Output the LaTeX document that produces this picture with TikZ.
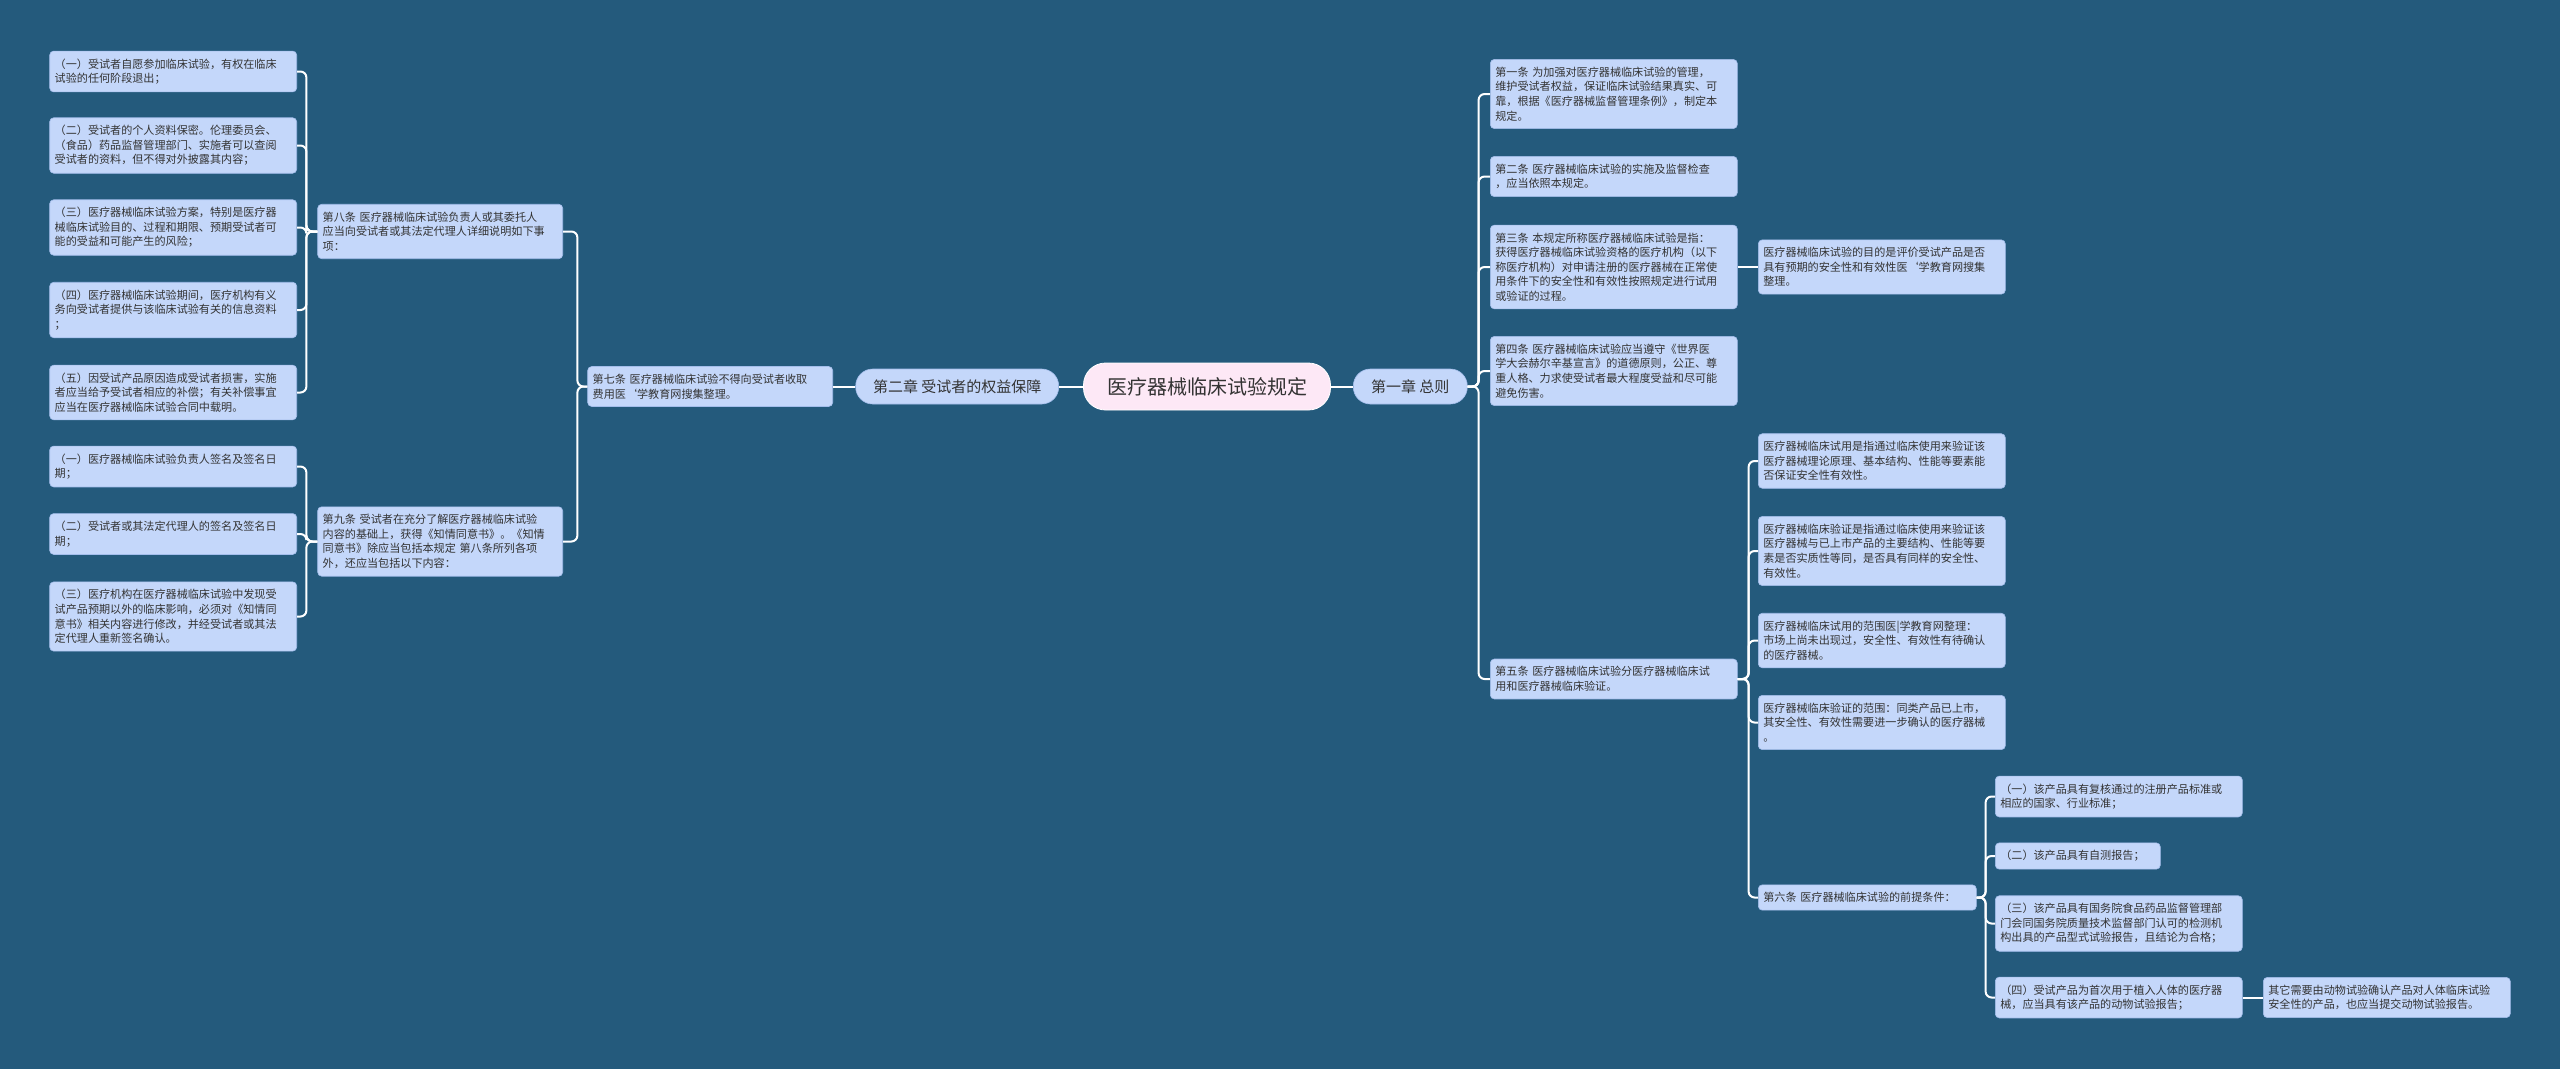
\documentclass[tikz,border=0pt]{standalone}
\usepackage{fontspec}
\setmainfont{Noto Sans CJK SC}
\usetikzlibrary{positioning}

\definecolor{bgblue}{HTML}{245A7C}
\definecolor{notefill}{HTML}{C4D7FA}
\definecolor{noteline}{HTML}{A3BDEB}
\definecolor{rootfill}{HTML}{FDE8F6}
\definecolor{ink}{HTML}{333333}

\tikzset{
  note/.style={rectangle, rounded corners=4pt, fill=notefill, draw=noteline, line width=0.6pt,
    text=ink, font=\fontsize{11.1}{14.6}\selectfont, align=left,
    inner xsep=5pt, inner ysep=7.5pt, text width=#1},
  note/.default=237pt,
  chapter/.style={rectangle, rounded corners=17pt, fill=notefill, draw=noteline, line width=0.6pt,
    text=ink, font=\fontsize{15}{18}\selectfont, minimum height=35pt, inner xsep=0pt},
  rootbox/.style={rectangle, rounded corners=22pt, fill=rootfill, draw=white, line width=0.8pt,
    text=ink, font=\fontsize{20}{24}\selectfont, minimum width=247pt, minimum height=47pt},
  link/.style={draw=white, line width=2pt, rounded corners=6pt},
}

\begin{document}
\begin{tikzpicture}[x=1pt,y=-1pt]
  \fill[bgblue] (0,0) rectangle (2560,1069);
  \useasboundingbox (0,0) rectangle (2560,1069);

  % centre and the two chapters
  \node[rootbox] (root) at (1207,386.5) {医疗器械临床试验规定};
  \node[chapter, minimum width=114pt, anchor=west] (ch1) at (1353,386.5) {第一章 总则};
  \node[chapter, minimum width=203pt, anchor=east] (ch2) at (1059,386.5) {第二章 受试者的权益保障};

  % chapter two, left side
  \node[note=235pt, anchor=east] (a7) at (833,386.5) {第七条 医疗器械临床试验不得向受试者收取\\费用医\symbol{96}学教育网搜集整理。};
  \node[note=235pt, anchor=east] (a8) at (563,231.5) {第八条 医疗器械临床试验负责人或其委托人\\应当向受试者或其法定代理人详细说明如下事\\项：};
  \node[note=235pt, anchor=east] (a9) at (563,541.5) {第九条 受试者在充分了解医疗器械临床试验\\内容的基础上，获得《知情同意书》。《知情\\同意书》除应当包括本规定 第八条所列各项\\外，还应当包括以下内容：};

  \node[note, anchor=east] (l1) at (297,71.5) {（一）受试者自愿参加临床试验，有权在临床\\试验的任何阶段退出；};
  \node[note, anchor=east] (l2) at (297,145.5) {（二）受试者的个人资料保密。伦理委员会、\\（食品）药品监督管理部门、实施者可以查阅\\受试者的资料，但不得对外披露其内容；};
  \node[note, anchor=east] (l3) at (297,227.5) {（三）医疗器械临床试验方案，特别是医疗器\\械临床试验目的、过程和期限、预期受试者可\\能的受益和可能产生的风险；};
  \node[note, anchor=east] (l4) at (297,310) {（四）医疗器械临床试验期间，医疗机构有义\\务向受试者提供与该临床试验有关的信息资料\\；};
  \node[note, anchor=east] (l5) at (297,392.5) {（五）因受试产品原因造成受试者损害，实施\\者应当给予受试者相应的补偿；有关补偿事宜\\应当在医疗器械临床试验合同中载明。};

  \node[note, anchor=east] (m1) at (297,466.5) {（一）医疗器械临床试验负责人签名及签名日\\期；};
  \node[note, anchor=east] (m2) at (297,534) {（二）受试者或其法定代理人的签名及签名日\\期；};
  \node[note, anchor=east] (m3) at (297,616.5) {（三）医疗机构在医疗器械临床试验中发现受\\试产品预期以外的临床影响，必须对《知情同\\意书》相关内容进行修改，并经受试者或其法\\定代理人重新签名确认。};

  % chapter one, right side
  \node[note, anchor=west] (r1) at (1490,94) {第一条 为加强对医疗器械临床试验的管理，\\维护受试者权益，保证临床试验结果真实、可\\靠，根据《医疗器械监督管理条例》，制定本\\规定。};
  \node[note, anchor=west] (r2) at (1490,176.5) {第二条 医疗器械临床试验的实施及监督检查\\，应当依照本规定。};
  \node[note, anchor=west] (r3) at (1490,267) {第三条 本规定所称医疗器械临床试验是指：\\获得医疗器械临床试验资格的医疗机构（以下\\称医疗机构）对申请注册的医疗器械在正常使\\用条件下的安全性和有效性按照规定进行试用\\或验证的过程。};
  \node[note, anchor=west] (r4) at (1490,371) {第四条 医疗器械临床试验应当遵守《世界医\\学大会赫尔辛基宣言》的道德原则，公正、尊\\重人格、力求使受试者最大程度受益和尽可能\\避免伤害。};
  \node[note, anchor=west] (r5) at (1490,679) {第五条 医疗器械临床试验分医疗器械临床试\\用和医疗器械临床验证。};

  \node[note, anchor=west] (r3x) at (1758,267) {医疗器械临床试验的目的是评价受试产品是否\\具有预期的安全性和有效性医\symbol{96}学教育网搜集\\整理。};

  \node[note, anchor=west] (s1) at (1758,461) {医疗器械临床试用是指通过临床使用来验证该\\医疗器械理论原理、基本结构、性能等要素能\\否保证安全性有效性。};
  \node[note, anchor=west] (s2) at (1758,551) {医疗器械临床验证是指通过临床使用来验证该\\医疗器械与已上市产品的主要结构、性能等要\\素是否实质性等同，是否具有同样的安全性、\\有效性。};
  \node[note, anchor=west] (s3) at (1758,640.5) {医疗器械临床试用的范围医|学教育网整理：\\市场上尚未出现过，安全性、有效性有待确认\\的医疗器械。};
  \node[note, anchor=west] (s4) at (1758,722.5) {医疗器械临床验证的范围：同类产品已上市，\\其安全性、有效性需要进一步确认的医疗器械\\。};
  \node[note=208pt, anchor=west] (r6) at (1758,897.5) {第六条 医疗器械临床试验的前提条件：};

  \node[note, anchor=west] (t1) at (1995,796.5) {（一）该产品具有复核通过的注册产品标准或\\相应的国家、行业标准；};
  \node[note=155pt, anchor=west] (t2) at (1995,856) {（二）该产品具有自测报告；};
  \node[note, anchor=west] (t3) at (1995,923.5) {（三）该产品具有国务院食品药品监督管理部\\门会同国务院质量技术监督部门认可的检测机\\构出具的产品型式试验报告，且结论为合格；};
  \node[note, anchor=west] (t4) at (1995,997.5) {（四）受试产品为首次用于植入人体的医疗器\\械，应当具有该产品的动物试验报告；};
  \node[note, anchor=west] (t4x) at (2263,997.5) {其它需要由动物试验确认产品对人体临床试验\\安全性的产品，也应当提交动物试验报告。};

  % connectors
  \draw[link] (root.east) -- (ch1.west);
  \draw[link] (root.west) -- (ch2.east);
  \draw[link] (ch2.west) -- (a7.east);
  \foreach \c in {a8,a9} \draw[link] (a7.west) -- ++(-10,0) |- (\c.east);
  \foreach \c in {l1,l2,l3,l4,l5} \draw[link] (a8.west) -- ++(-11,0) |- (\c.east);
  \foreach \c in {m1,m2,m3} \draw[link] (a9.west) -- ++(-11,0) |- (\c.east);

  \foreach \c in {r1,r2,r3,r4,r5} \draw[link] (ch1.east) -- ++(11,0) |- (\c.west);
  \draw[link] (r3.east) -- (r3x.west);
  \foreach \c in {s1,s2,s3,s4,r6} \draw[link] (r5.east) -- ++(11,0) |- (\c.west);
  \foreach \c in {t1,t2,t3,t4} \draw[link] (r6.east) -- ++(9,0) |- (\c.west);
  \draw[link] (t4.east) -- (t4x.west);
\end{tikzpicture}
\end{document}
